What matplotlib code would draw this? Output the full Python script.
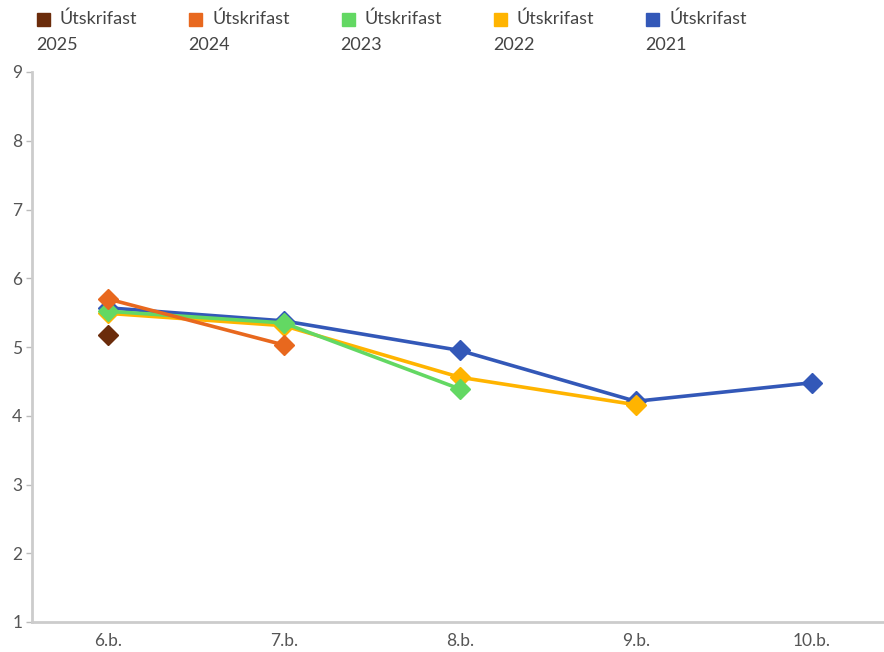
import numpy as np
import matplotlib.pyplot as plt
from matplotlib.patches import Rectangle

plt.rcParams['font.family'] = ['Lato', 'DejaVu Sans']

# categories (grade) and one series per graduating class
grades = ["6.b.", "7.b.", "8.b.", "9.b.", "10.b."]
labels = ["Útskrifast\n2025", "Útskrifast\n2024", "Útskrifast\n2023",
          "Útskrifast\n2022", "Útskrifast\n2021"]
colors = ["#6B2C0B", "#E8681E", "#63D863", "#FFB400", "#3358B8"]

y2025 = [5.18]
y2024 = [5.70, 5.03]
y2023 = [5.52, 5.35, 4.39]
y2022 = [5.49, 5.31, 4.56, 4.16]
y2021 = [5.57, 5.38, 4.95, 4.21, 4.48]
series = [y2025, y2024, y2023, y2022, y2021]

fig = plt.figure(figsize=(8.84, 6.52), dpi=100)
ax = fig.add_axes([32 / 884, 1 - 622 / 652, 852 / 884, 550 / 652])

# oldest class drawn first so newer classes sit on top
for vals, col in reversed(list(zip(series, colors))):
    x = np.arange(len(vals))
    ax.plot(x, vals, color=col, lw=2.6, marker='D', markersize=10,
            solid_joinstyle='round', zorder=3)

ax.set_xlim(-0.43, 4.41)
ax.set_ylim(1, 9)
ax.set_xticks(range(len(grades)))
ax.set_xticklabels(grades)
ax.set_yticks(range(1, 10))

for s in ['top', 'right']:
    ax.spines[s].set_visible(False)
for s in ['left', 'bottom']:
    ax.spines[s].set_color('#cccccc')
    ax.spines[s].set_linewidth(2)
ax.tick_params(axis='x', length=0, pad=8, labelsize=12.5, labelcolor='#555555')
ax.tick_params(axis='y', length=4, width=1, color='#bbbbbb', pad=3,
               labelsize=12.5, labelcolor='#555555')

# legend drawn by hand: square, first line beside it, year on the line below
for i, (lab, col) in enumerate(zip(labels, colors)):
    x0 = (37 + i * 152.3) / 884
    fig.patches.append(Rectangle((x0, 1 - 26 / 652), 13 / 884, 13 / 652,
                                 transform=fig.transFigure, color=col))
    first, second = lab.split("\n")
    fig.text(x0 + 23 / 884, 1 - 19 / 652, first, fontsize=13,
             color='#444444', va='center')
    fig.text(x0 - 1 / 884, 1 - 45 / 652, second, fontsize=13,
             color='#444444', va='center')

fig.savefig("out.png", dpi=100)
